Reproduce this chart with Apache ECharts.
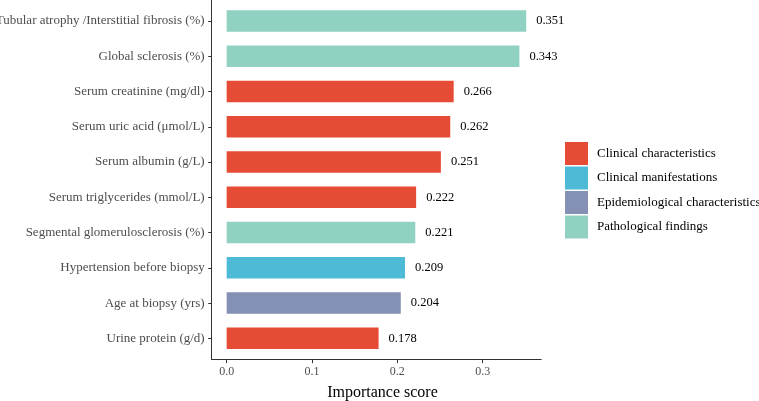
<!DOCTYPE html>
<html>
<head>
<meta charset="utf-8">
<script src="https://cdn.jsdelivr.net/npm/echarts@6/dist/echarts.min.js"></script>
<style>html,body{margin:0;padding:0;background:#fff;}#c{width:759px;height:401px;}</style>
</head>
<body>
<div id="c"></div>
<script>
const categories = [
  'Tubular atrophy /Interstitial fibrosis (%)',
  'Global sclerosis (%)',
  'Serum creatinine (mg/dl)',
  'Serum uric acid (μmol/L)',
  'Serum albumin (g/L)',
  'Serum triglycerides (mmol/L)',
  'Segmental glomerulosclerosis (%)',
  'Hypertension before biopsy',
  'Age at biopsy (yrs)',
  'Urine protein (g/d)'
];
const values = [0.351, 0.343, 0.266, 0.262, 0.251, 0.222, 0.221, 0.209, 0.204, 0.178];
const groups = [
  'Pathological findings',
  'Pathological findings',
  'Clinical characteristics',
  'Clinical characteristics',
  'Clinical characteristics',
  'Clinical characteristics',
  'Pathological findings',
  'Clinical manifestations',
  'Epidemiological characteristics',
  'Clinical characteristics'
];
const groupNames = ['Clinical characteristics', 'Clinical manifestations', 'Epidemiological characteristics', 'Pathological findings'];
const groupColors = ['#E64B35', '#4DBBD5', '#8491B4', '#91D1C2'];
const xTicks = [0, 0.1, 0.2, 0.3];

const FONT = "'Liberation Serif', 'Times New Roman', serif";
const chart = echarts.init(document.getElementById('c'), null, {renderer: 'canvas'});

const series = groupNames.map((g, gi) => ({
  name: g,
  type: 'bar',
  stack: 'all',
  xAxisIndex: 0,
  yAxisIndex: 0,
  barWidth: '61%',
  itemStyle: {color: groupColors[gi]},
  label: {
    show: true,
    position: 'right',
    distance: 10,
    color: '#000',
    fontFamily: FONT,
    fontSize: 12.5,
    formatter: p => p.value == null ? '' : Number(p.value).toFixed(3)
  },
  data: values.map((v, i) => groups[i] === g ? v : null)
}));

const xMin = -0.01755, xMax = 0.36855;

chart.setOption({
  animation: false,
  backgroundColor: '#fff',
  legend: {
    orient: 'vertical',
    left: 565,
    top: 142,
    padding: 0,
    itemWidth: 23,
    itemHeight: 23,
    itemGap: 1.5,
    icon: 'rect',
    data: groupNames,
    textStyle: {fontFamily: FONT, fontSize: 13, color: '#000', padding: [0, 0, 0, 4]}
  },
  grid: [
    {left: 211.7, top: 3.4, width: 329.5, height: 352.6, containLabel: false, outerBoundsMode: 'none'},
    {left: 211.7, top: 0, width: 329.5, height: 359.5, containLabel: false, outerBoundsMode: 'none'}
  ],
  xAxis: [
    {
      type: 'value', gridIndex: 0, min: xMin, max: xMax, splitNumber: 4,
      offset: 3.6,
      axisLine: {show: true, onZero: false, lineStyle: {color: '#333', width: 1}},
      splitLine: {show: false},
      axisLabel: {
        margin: 6.5, color: '#4D4D4D', fontFamily: FONT, fontSize: 12,
        customValues: xTicks,
        formatter: v => Number(v).toFixed(1)
      },
      axisTick: {show: true, length: 3.5, lineStyle: {color: '#333'}, customValues: xTicks},
      name: 'Importance score',
      nameLocation: 'middle',
      nameGap: 25.5,
      nameTextStyle: {fontFamily: FONT, fontSize: 16, color: '#000', padding: [0, 0, 0, 12]}
    },
    {type: 'value', gridIndex: 1, show: false, min: 0, max: 1}
  ],
  yAxis: [
    {
      type: 'category', gridIndex: 0, data: categories, inverse: true,
      axisLine: {show: false, onZero: false},
      axisTick: {show: true, alignWithLabel: true, length: 3.5, lineStyle: {color: '#333'}},
      axisLabel: {margin: 7, color: '#4D4D4D', fontFamily: FONT, fontSize: 13}
    },
    {
      type: 'value', gridIndex: 1, min: 0, max: 1,
      axisLine: {show: true, onZero: false, lineStyle: {color: '#333', width: 1}},
      axisTick: {show: false}, axisLabel: {show: false}, splitLine: {show: false}
    }
  ],
  series: series
});
</script>
</body>
</html>
